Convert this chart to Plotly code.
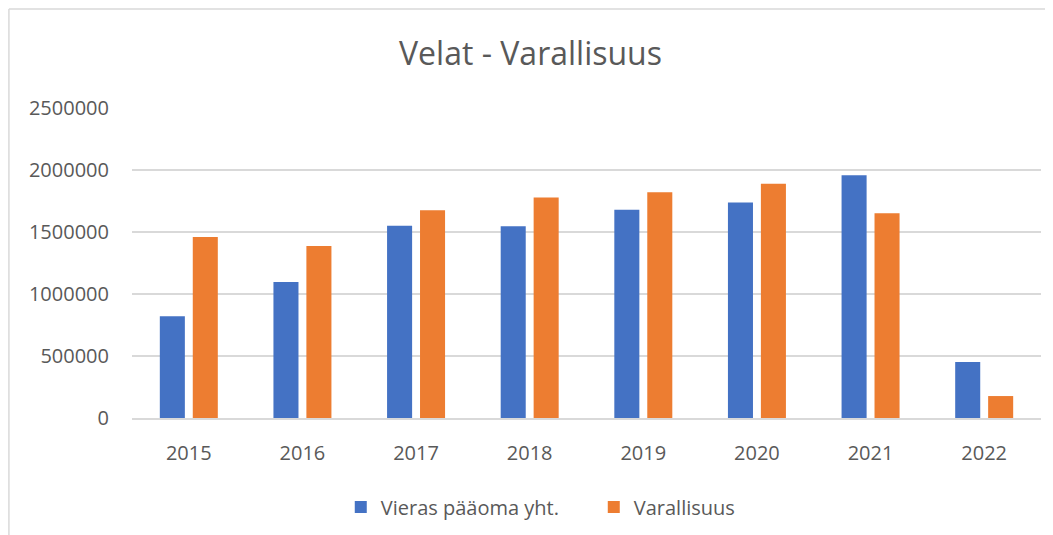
import plotly.graph_objects as go

# yearly values
years = ['2015', '2016', '2017', '2018', '2019', '2020', '2021', '2022']
vieras = [821000, 1097000, 1551000, 1546000, 1680000, 1737000, 1957000, 451000]
varallisuus = [1460000, 1387000, 1675000, 1779000, 1820000, 1890000, 1651000, 177000]

y_ticks = [0, 500000, 1000000, 1500000, 2000000, 2500000]

txt = '#595959'
font = 'Open Sans'

# page has an 8px body margin, so the figure is drawn a bit smaller
W, H = 1045, 527
L, R, T, B = 124, 12, 100, 117
ph = H - T - B

fig = go.Figure()
fig.add_trace(go.Bar(x=years, y=vieras, name='Vieras pääoma yht.',
                     marker=dict(color='#4472C4', line=dict(width=0))))
fig.add_trace(go.Bar(x=years, y=varallisuus, name='Varallisuus',
                     marker=dict(color='#ED7D31', line=dict(width=0))))

fig.update_layout(
    width=W, height=H,
    margin=dict(l=L, r=R, t=T, b=B),
    paper_bgcolor='white', plot_bgcolor='white',
    font=dict(family=font, color=txt, size=20),
    title=dict(text='Velat - Varallisuus', x=0.5, xanchor='center',
               y=1 - 46 / H, yanchor='middle',
               font=dict(size=32, color=txt, family=font)),
    barmode='group', bargap=0.42, bargroupgap=0.24,
    showlegend=True,
    legend=dict(orientation='h', x=0.508, xanchor='center',
                yref='container', y=(H - 499) / H, yanchor='middle',
                font=dict(size=20, color=txt), entrywidth=208, traceorder='normal'),
)
fig.update_yaxes(range=[0, 2500000], tickvals=y_ticks, tickformat='d',
                 showgrid=True, gridcolor='#D9D9D9', gridwidth=1.5,
                 zeroline=False, showline=False, ticks='',
                 ticklabelstandoff=22, tickfont=dict(size=20, color=txt))
fig.update_xaxes(showgrid=False, showline=True, linecolor='#D9D9D9', linewidth=1.5,
                 ticks='', ticklabelstandoff=16, tickfont=dict(size=20, color=txt))

# light frame like the original chart area
pw = W - L - R
fx = -L / pw + 0.001
fy = (H - B - 1) / ph
fig.add_shape(type='line', xref='paper', yref='paper',
              x0=fx, x1=1.02, y0=fy, y1=fy,
              line=dict(color='#D9D9D9', width=1.5))
fig.add_shape(type='line', xref='paper', yref='paper',
              x0=fx, x1=fx, y0=fy, y1=-0.5,
              line=dict(color='#D9D9D9', width=1.5))

fig.write_html('out.html')
